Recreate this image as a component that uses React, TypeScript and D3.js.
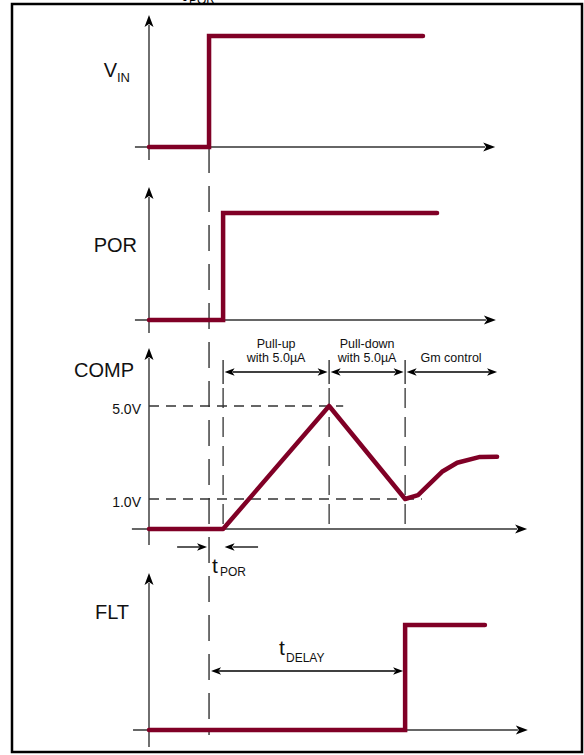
import React from "react";
import * as d3 from "d3";

// ---- time axis (arbitrary time units) ----
const T_VIN = 15.8; // VIN rises
const T_POR = 19.5; // POR rises / COMP starts
const T_PEAK = 47.4; // COMP reaches 5.0V
const T_TROUGH = 67.4; // COMP back at 1.0V, FLT rises

// ---- signals ----
const vinT = [0, T_VIN, T_VIN, 72.1];
const vinLevel = [0, 0, 1, 1];
const porT = [0, T_POR, T_POR, 75.8];
const porLevel = [0, 0, 1, 1];
const compT = [0, T_POR, T_PEAK, T_TROUGH, 70.8, 77.1, 81.1, 87.1, 91.6];
const compV = [0, 0, 5.0, 1.0, 1.17, 2.17, 2.56, 2.81, 2.82];
const fltT = [0, T_TROUGH, T_TROUGH, 88.4];
const fltLevel = [0, 0, 1, 1];

// ---- annotation labels ----
const compTicks = [5.0, 1.0];
const compTickLabels = ["5.0V", "1.0V"];
const phaseStart = [T_POR, T_PEAK, T_TROUGH];
const phaseEnd = [T_PEAK, T_TROUGH, 91.6];
const phaseLine1 = ["Pull-up", "Pull-down", ""];
const phaseLine2 = ["with 5.0µA", "with 5.0µA", "Gm control"];

const RED = "#800026";
const AX = "#333";
const FONT = "Arial, 'Liberation Sans', Helvetica, sans-serif";

const x = d3.scaleLinear().domain([0, 100]).range([149, 529]);
const yVin = d3.scaleLinear().domain([0, 1]).range([147, 36]);
const yPor = d3.scaleLinear().domain([0, 1]).range([320, 213]);
const yComp = d3.scaleLinear().domain([0, 1, 5]).range([529, 499, 406]);
const yFlt = d3.scaleLinear().domain([0, 1]).range([730, 625]);

function signalPath(ts: number[], vs: number[], y: d3.ScaleLinear<number, number>) {
  const pts: [number, number][] = ts.map((t, i) => [x(t), y(vs[i])]);
  return d3.line()(pts) as string;
}

// arrowhead pointing in direction (dx,dy) with tip at (tx,ty)
function head(tx: number, ty: number, dx: number, dy: number, len = 12, hw = 4.5, notch = 3) {
  const px = -dy, py = dx;
  const bx = tx - dx * len, by = ty - dy * len;
  const nx = tx - dx * (len - notch), ny = ty - dy * (len - notch);
  return `M${tx},${ty}L${bx + px * hw},${by + py * hw}L${nx},${ny}L${bx - px * hw},${by - py * hw}Z`;
}

type Panel = { y: d3.ScaleLinear<number, number>; tip: number; below: number; left: number; right: number };
const panels: Panel[] = [
  { y: yVin, tip: 15, below: 13, left: -3.7, right: 91.1 },
  { y: yPor, tip: 187, below: 13, left: -3.7, right: 91.3 },
  { y: yComp, tip: 348, below: 16, left: -4.5, right: 99.5 },
  { y: yFlt, tip: 573, below: 17, left: -4.2, right: 99.7 },
];

function Axes({ p }: { p: Panel }) {
  const base = p.y(0);
  const x0 = x(0);
  return (
    <g>
      <line x1={x0} x2={x0} y1={base + p.below} y2={p.tip + 10} stroke={AX} strokeWidth={1.4} />
      <path d={head(x0, p.tip, 0, -1)} fill="#000" />
      <line x1={x(p.left)} x2={x(p.right) - 10} y1={base} y2={base} stroke={AX} strokeWidth={1.4} />
      <path d={head(x(p.right), base, 1, 0)} fill="#000" />
    </g>
  );
}

export default function App() {
  const arrowY = 372;
  return (
    <svg
      width={584}
      height={755}
      style={{ position: "absolute", left: 0, top: 0, background: "#fff" }}
      fontFamily={FONT}
    >
      <rect x={0} y={0} width={584} height={755} fill="#fff" />
      {/* cut-off caption at top */}
      <text x={181} y={1} fontSize={20} fill="#000">t</text>
      <text x={189} y={4} fontSize={12} fill="#000">POR</text>

      {/* frame */}
      <rect x={12} y={4} width={570} height={748} fill="none" stroke="#000" strokeWidth={2.5} />

      {panels.map((p, i) => (
        <Axes key={i} p={p} />
      ))}

      {/* long tPOR dashed marker */}
      <line x1={x(T_VIN)} x2={x(T_VIN)} y1={yVin(0)} y2={735} stroke={AX} strokeWidth={1.4} strokeDasharray="26,13" />

      {/* COMP dashed guides */}
      {compTicks.map((v, i) => (
        <line key={"h" + i} x1={x(0)} x2={x(i === 0 ? 51.1 : 71.8)} y1={yComp(v)} y2={yComp(v)}
          stroke={AX} strokeWidth={1.3} strokeDasharray="10,7" />
      ))}
      {compTickLabels.map((s, i) => (
        <text key={"l" + i} x={141} y={yComp(compTicks[i]) + 8} fontSize={14} textAnchor="end" fill="#111">{s}</text>
      ))}
      {phaseStart.map((t, i) => (
        <g key={"v" + i}>
          <line x1={x(t)} x2={x(t)} y1={360} y2={384} stroke={AX} strokeWidth={1.4} />
          <line x1={x(t)} x2={x(t)} y1={388} y2={yComp(0)} stroke={AX} strokeWidth={1.3} strokeDasharray="20,9" />
        </g>
      ))}
      {phaseStart.map((t, i) => {
        const a = x(t) + 1.5, b = x(phaseEnd[i]) - (i === 2 ? 0 : 1.5);
        const cx = (x(t) + x(phaseEnd[i])) / 2;
        return (
          <g key={"a" + i}>
            <line x1={a + 8} x2={b - 8} y1={arrowY} y2={arrowY} stroke="#000" strokeWidth={1.3} />
            <path d={head(a, arrowY, -1, 0, 10, 3.8, 2.5)} fill="#000" />
            <path d={head(b, arrowY, 1, 0, 10, 3.8, 2.5)} fill="#000" />
            {phaseLine1[i] && (
              <text x={cx} y={348} fontSize={12.5} textAnchor="middle" fill="#111">{phaseLine1[i]}</text>
            )}
            <text x={cx} y={362} fontSize={12.5} textAnchor="middle" fill="#111">{phaseLine2[i]}</text>
          </g>
        );
      })}

      {/* tPOR arrows */}
      <line x1={x(7.4)} x2={x(T_VIN) - 10} y1={547} y2={547} stroke="#000" strokeWidth={1.3} />
      <path d={head(x(T_VIN) - 2, 547, 1, 0, 10, 3.8, 2.5)} fill="#000" />
      <line x1={x(28.7)} x2={x(T_POR) + 10} y1={547} y2={547} stroke="#000" strokeWidth={1.3} />
      <path d={head(x(T_POR) + 1.5, 547, -1, 0, 10, 3.8, 2.5)} fill="#000" />
      <text x={212} y={573} fontSize={21} fill="#111">t</text>
      <text x={220} y={576} fontSize={12} fill="#111">POR</text>

      {/* tDELAY arrow */}
      <line x1={x(T_VIN) + 10} x2={x(T_TROUGH) - 10} y1={671} y2={671} stroke="#000" strokeWidth={1.3} />
      <path d={head(x(T_VIN) + 2, 671, -1, 0, 10, 3.8, 2.5)} fill="#000" />
      <path d={head(x(T_TROUGH) - 2, 671, 1, 0, 10, 3.8, 2.5)} fill="#000" />
      <text x={279} y={655} fontSize={21} fill="#111">t</text>
      <text x={286} y={662} fontSize={12} fill="#111">DELAY</text>

      {/* signal labels */}
      <text x={117} y={77} fontSize={20} textAnchor="end" fill="#111">V</text>
      <text x={117} y={82} fontSize={13} fill="#111">IN</text>
      <text x={137} y={252} fontSize={20} textAnchor="end" fill="#111">POR</text>
      <text x={134} y={377} fontSize={20} textAnchor="end" fill="#111">COMP</text>
      <text x={129} y={619} fontSize={20} textAnchor="end" fill="#111">FLT</text>

      {/* signals */}
      <g fill="none" stroke={RED} strokeWidth={4.5} strokeLinecap="round" strokeLinejoin="miter">
        <path d={signalPath(vinT, vinLevel, yVin)} />
        <path d={signalPath(porT, porLevel, yPor)} />
        <path d={signalPath(compT, compV, yComp)} strokeLinejoin="round" />
        <path d={signalPath(fltT, fltLevel, yFlt)} />
      </g>
    </svg>
  );
}
